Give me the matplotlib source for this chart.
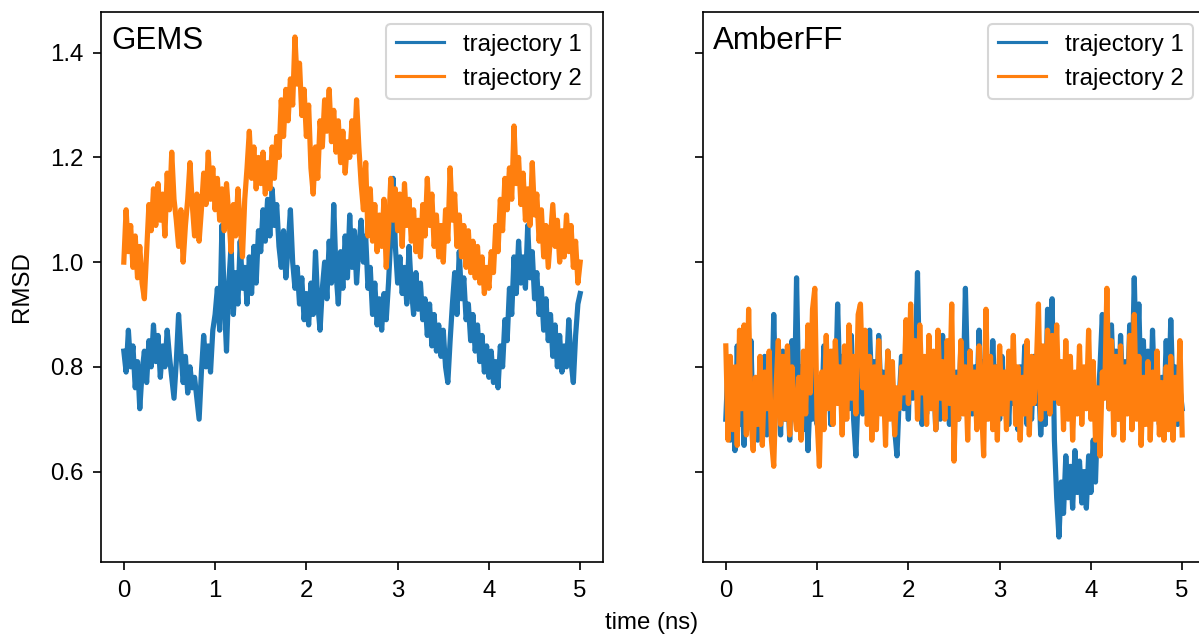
import numpy as np
import matplotlib.pyplot as plt

plt.rcParams["font.family"] = ["Liberation Sans", "DejaVu Sans"]

# time axis (ns), one sample every 0.025 ns
time_ns = np.linspace(0, 5, 201)

# GEMS, trajectory 1
gems_traj1 = [
    0.83, 0.79, 0.87, 0.80, 0.84, 0.76, 0.81, 0.72, 0.79, 0.83, 0.77, 0.85, 0.80, 0.88, 0.81, 0.86, 0.78, 0.84, 0.80, 0.87,
    0.82, 0.78, 0.74, 0.81, 0.90, 0.83, 0.77, 0.82, 0.75, 0.80, 0.76, 0.78, 0.74, 0.70, 0.79, 0.86, 0.80, 0.84, 0.79, 0.87,
    0.90, 0.95, 0.87, 1.07, 0.93, 0.83, 0.96, 1.03, 0.90, 0.98, 0.92, 1.04, 0.95, 0.99, 0.92, 1.01, 0.94, 1.03, 0.96, 1.06,
    1.02, 1.10, 1.04, 1.12, 1.05, 1.14, 1.07, 1.11, 1.03, 0.99, 1.06, 0.97, 1.03, 1.10, 1.00, 0.95, 0.99, 0.92, 0.97, 0.89,
    0.94, 0.88, 0.96, 0.90, 1.02, 0.92, 0.87, 0.95, 1.00, 0.93, 1.04, 0.96, 1.11, 0.98, 0.92, 1.02, 0.95, 1.05, 0.97, 1.09,
    0.99, 1.06, 0.96, 1.03, 1.08, 1.00, 1.05, 0.95, 0.99, 0.90, 0.96, 0.88, 0.93, 0.87, 0.94, 0.89, 0.96, 1.05, 1.16, 1.03,
    0.96, 1.01, 0.94, 0.99, 0.92, 1.03, 0.95, 0.90, 0.98, 0.91, 0.96, 0.89, 0.93, 0.86, 0.92, 0.84, 0.90, 0.83, 0.88, 0.82,
    0.87, 0.80, 0.77, 0.85, 0.92, 0.98, 0.90, 1.02, 0.93, 0.97, 0.89, 0.92, 0.85, 0.90, 0.83, 0.88, 0.81, 0.86, 0.79, 0.84,
    0.78, 0.83, 0.77, 0.81, 0.76, 0.84, 0.80, 0.89, 0.85, 0.95, 0.90, 1.01, 0.94, 1.04, 0.96, 1.01, 0.95, 1.07, 0.97, 1.02,
    0.93, 0.98, 0.90, 0.95, 0.87, 0.93, 0.85, 0.90, 0.82, 0.88, 0.80, 0.86, 0.79, 0.84, 0.80, 0.89, 0.81, 0.77, 0.86, 0.92,
    0.94,
]

# GEMS, trajectory 2
gems_traj2 = [
    1.00, 1.10, 1.02, 1.07, 0.99, 1.05, 0.97, 1.03, 0.96, 0.93, 1.02, 1.11, 1.06, 1.14, 1.07, 1.15, 1.08, 1.13, 1.05, 1.17,
    1.10, 1.21, 1.12, 1.08, 1.03, 1.10, 1.00, 1.07, 1.12, 1.19, 1.11, 1.05, 1.13, 1.04, 1.10, 1.17, 1.11, 1.21, 1.12, 1.18,
    1.10, 1.16, 1.08, 1.14, 1.06, 1.15, 1.09, 1.02, 1.11, 1.05, 1.14, 1.07, 1.01, 1.12, 1.18, 1.25, 1.16, 1.22, 1.14, 1.20,
    1.15, 1.21, 1.13, 1.19, 1.14, 1.22, 1.16, 1.24, 1.20, 1.31, 1.24, 1.33, 1.27, 1.35, 1.30, 1.43, 1.34, 1.38, 1.28, 1.33,
    1.24, 1.30, 1.18, 1.13, 1.22, 1.16, 1.27, 1.22, 1.31, 1.25, 1.33, 1.23, 1.29, 1.21, 1.27, 1.19, 1.25, 1.17, 1.23, 1.20,
    1.27, 1.21, 1.31, 1.22, 1.15, 1.10, 1.19, 1.05, 1.14, 1.04, 1.11, 1.02, 1.09, 1.03, 1.12, 0.99, 1.06, 1.16, 1.08, 1.14,
    1.06, 1.13, 1.03, 1.15, 1.07, 1.12, 1.04, 1.10, 1.02, 1.08, 1.01, 1.11, 1.05, 1.16, 1.07, 1.13, 1.03, 1.09, 1.01, 1.07,
    1.00, 1.10, 1.04, 1.18, 1.08, 1.13, 1.03, 1.09, 1.01, 1.07, 0.99, 1.06, 0.98, 1.04, 0.97, 1.03, 0.96, 1.01, 0.94, 0.99,
    0.95, 1.02, 0.98, 1.07, 1.02, 1.12, 1.06, 1.16, 1.10, 1.18, 1.12, 1.26, 1.15, 1.20, 1.11, 1.17, 1.08, 1.14, 1.07, 1.19,
    1.09, 1.13, 1.04, 1.10, 1.01, 1.07, 0.99, 1.05, 1.11, 1.03, 1.08, 1.00, 1.06, 1.01, 1.09, 1.02, 1.07, 0.99, 1.04, 0.96,
    1.00,
]

# AmberFF, trajectory 1
amber_traj1 = [
    0.70, 0.81, 0.66, 0.78, 0.64, 0.84, 0.69, 0.77, 0.65, 0.80, 0.70, 0.85, 0.68, 0.76, 0.66, 0.79, 0.71, 0.82, 0.67, 0.77,
    0.69, 0.90, 0.72, 0.80, 0.67, 0.83, 0.70, 0.78, 0.66, 0.85, 0.72, 0.97, 0.73, 0.80, 0.68, 0.77, 0.64, 0.75, 0.70, 0.82,
    0.69, 0.78, 0.71, 0.84, 0.73, 0.80, 0.69, 0.83, 0.74, 0.92, 0.76, 0.82, 0.70, 0.79, 0.72, 0.86, 0.70, 0.63, 0.75, 0.82,
    0.71, 0.84, 0.73, 0.87, 0.75, 0.81, 0.70, 0.86, 0.74, 0.79, 0.70, 0.83, 0.72, 0.78, 0.68, 0.63, 0.74, 0.82, 0.72, 0.79,
    0.70, 0.86, 0.74, 0.81, 0.98, 0.76, 0.69, 0.80, 0.71, 0.84, 0.73, 0.80, 0.68, 0.77, 0.70, 0.86, 0.74, 0.80, 0.69, 0.83,
    0.72, 0.79, 0.70, 0.84, 0.75, 0.95, 0.77, 0.83, 0.71, 0.80, 0.73, 0.87, 0.74, 0.81, 0.70, 0.78, 0.72, 0.85, 0.73, 0.80,
    0.70, 0.82, 0.74, 0.79, 0.69, 0.81, 0.73, 0.78, 0.68, 0.80, 0.72, 0.84, 0.69, 0.76, 0.70, 0.82, 0.73, 0.79, 0.67, 0.75,
    0.69, 0.91, 0.74, 0.93, 0.66, 0.55, 0.475, 0.58, 0.52, 0.63, 0.55, 0.61, 0.53, 0.64, 0.56, 0.62, 0.54, 0.60, 0.53, 0.63,
    0.56, 0.66, 0.58, 0.72, 0.80, 0.90, 0.76, 0.84, 0.72, 0.88, 0.75, 0.83, 0.70, 0.86, 0.74, 0.81, 0.73, 0.88, 0.76, 0.97,
    0.78, 0.92, 0.74, 0.85, 0.72, 0.83, 0.70, 0.87, 0.73, 0.80, 0.69, 0.78, 0.71, 0.85, 0.72, 0.89, 0.74, 0.80, 0.69, 0.76,
    0.72,
]

# AmberFF, trajectory 2
amber_traj2 = [
    0.84, 0.66, 0.82, 0.68, 0.80, 0.65, 0.87, 0.72, 0.88, 0.67, 0.91, 0.70, 0.64, 0.78, 0.69, 0.82, 0.65, 0.79, 0.72, 0.83,
    0.66, 0.61, 0.76, 0.85, 0.69, 0.82, 0.70, 0.84, 0.67, 0.80, 0.72, 0.68, 0.78, 0.66, 0.83, 0.71, 0.88, 0.75, 0.91, 0.95,
    0.70, 0.61, 0.79, 0.68, 0.86, 0.72, 0.83, 0.69, 0.85, 0.73, 0.80, 0.67, 0.84, 0.70, 0.88, 0.74, 0.82, 0.71, 0.90, 0.92,
    0.76, 0.87, 0.69, 0.82, 0.66, 0.80, 0.68, 0.85, 0.71, 0.78, 0.65, 0.83, 0.70, 0.81, 0.67, 0.76, 0.72, 0.80, 0.75, 0.89,
    0.73, 0.92, 0.76, 0.85, 0.70, 0.88, 0.75, 0.82, 0.69, 0.86, 0.72, 0.83, 0.68, 0.87, 0.74, 0.81, 0.70, 0.85, 0.73, 0.92,
    0.62, 0.78, 0.70, 0.85, 0.71, 0.80, 0.66, 0.83, 0.72, 0.79, 0.68, 0.84, 0.73, 0.63, 0.91, 0.70, 0.82, 0.68, 0.80, 0.66,
    0.84, 0.71, 0.79, 0.68, 0.83, 0.74, 0.86, 0.69, 0.80, 0.66, 0.78, 0.71, 0.85, 0.67, 0.82, 0.73, 0.79, 0.92, 0.70, 0.84,
    0.72, 0.87, 0.71, 0.86, 0.74, 0.88, 0.73, 0.81, 0.68, 0.85, 0.70, 0.82, 0.66, 0.79, 0.71, 0.84, 0.69, 0.80, 0.72, 0.87,
    0.70, 0.81, 0.66, 0.76, 0.63, 0.79, 0.74, 0.95, 0.72, 0.85, 0.67, 0.82, 0.70, 0.84, 0.66, 0.80, 0.71, 0.86, 0.68, 0.90,
    0.70, 0.82, 0.65, 0.78, 0.69, 0.81, 0.66, 0.79, 0.70, 0.83, 0.67, 0.77, 0.66, 0.80, 0.68, 0.82, 0.66, 0.78, 0.70, 0.85,
    0.67,
]

panels = ["GEMS", "AmberFF"]
series_labels = ["trajectory 1", "trajectory 2"]

fig = plt.figure(figsize=(1199 / 150, 639 / 150), dpi=150)
ax1 = fig.add_axes([101 / 1199, 1 - 562 / 639, 502 / 1199, 550 / 639])
ax2 = fig.add_axes([703 / 1199, 1 - 562 / 639, 502 / 1199, 550 / 639], sharey=ax1)

for ax, name, (y1, y2) in zip([ax1, ax2], panels,
                              [(gems_traj1, gems_traj2), (amber_traj1, amber_traj2)]):
    ax.plot(time_ns, y1, color="#1f77b4", lw=2.5, label=series_labels[0])
    ax.plot(time_ns, y2, color="#ff7f0e", lw=2.5, label=series_labels[1])
    ax.text(0.02, 0.975, name, transform=ax.transAxes, va="top", ha="left", fontsize=15)
    leg = ax.legend(loc="upper right", fontsize=11.5)
    for line in leg.get_lines():
        line.set_linewidth(1.5)
    ax.set_xticks([0, 1, 2, 3, 4, 5])
    ax.tick_params(labelsize=11.5, length=4, pad=4.5)

ax1.set_yticks([0.6, 0.8, 1.0, 1.2, 1.4])
ax2.tick_params(labelleft=False)
ax1.set_ylabel("RMSD", fontsize=11.5, labelpad=8)
fig.text(652 / 1199, 1 - 623 / 639, "time (ns)", ha="center", va="center", fontsize=11.5)

fig.savefig("out.png", dpi=150)
